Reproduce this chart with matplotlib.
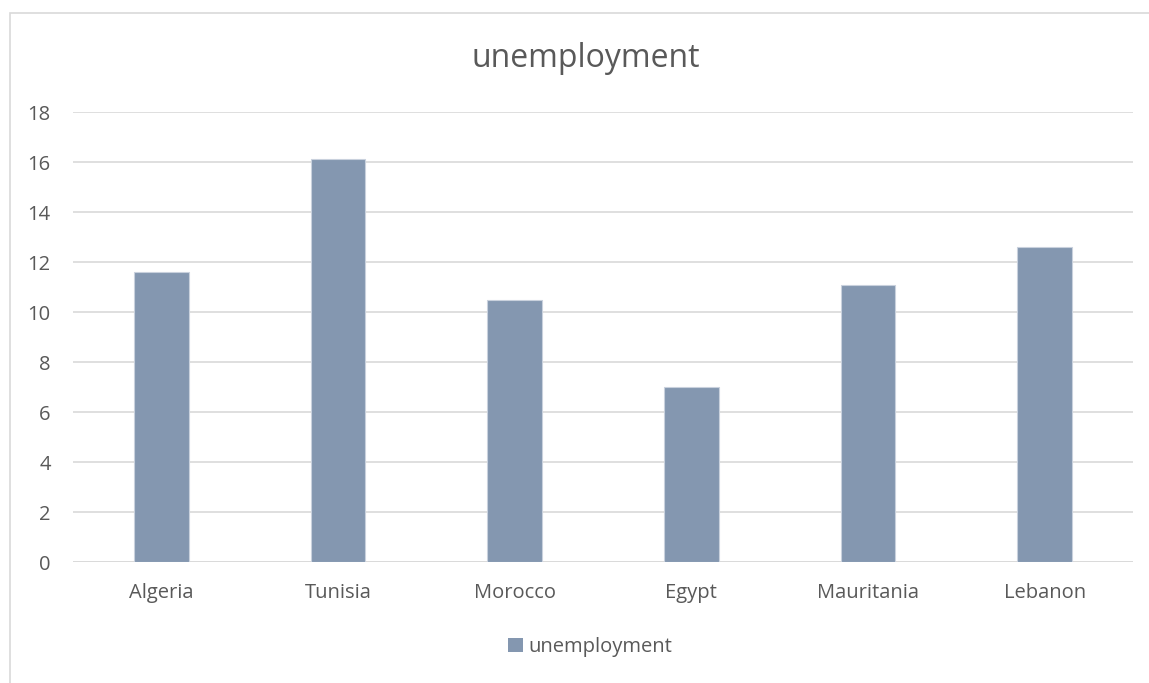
import matplotlib.pyplot as plt
from matplotlib.patches import Rectangle, Patch

countries = ['Algeria', 'Tunisia', 'Morocco', 'Egypt', 'Mauritania', 'Lebanon']
unemployment = [11.6, 16.1, 10.5, 7.0, 11.1, 12.6]
yticks = [0, 2, 4, 6, 8, 10, 12, 14, 16, 18]

bar_color = '#8497b0'
text_color = '#595959'
grid_color = '#d9d9d9'

plt.rcParams['font.family'] = ['Open Sans', 'DejaVu Sans']

W, H = 1149, 683
fig = plt.figure(figsize=(W / 100, H / 100), dpi=100, facecolor='white')
ax = fig.add_axes([73 / W, 1 - 562 / H, (1133 - 73) / W, (562 - 112) / H])

# outer chart border (runs off the right and bottom edges)
fig.patches.append(Rectangle((9.5 / W, -0.05), 1.2, 1 - 13.5 / H + 0.05,
                             transform=fig.transFigure, fill=False,
                             edgecolor=grid_color, linewidth=1.2))

x = range(len(countries))
ax.bar(x, unemployment, width=0.31, color=bar_color, edgecolor='#c9d1dd',
       linewidth=0.8, zorder=3)

ax.set_xlim(-0.5, len(countries) - 0.5)
ax.set_ylim(0, 18)
ax.set_yticks(yticks)
ax.set_xticks(list(x))
ax.set_xticklabels(countries)
ax.yaxis.grid(True, color=grid_color, linewidth=1.2, zorder=0)
ax.set_axisbelow(True)
for s in ax.spines.values():
    s.set_visible(False)
ax.axhline(0, color=grid_color, linewidth=1.2, zorder=1)
ax.tick_params(axis='both', length=0, labelsize=14.5, labelcolor=text_color)
ax.tick_params(axis='y', pad=16)
ax.tick_params(axis='x', pad=15)

fig.text(586 / W, 1 - 67 / H, 'unemployment', ha='center',
         va='baseline', fontsize=23, color=text_color)

fig.legend(handles=[Patch(facecolor=bar_color, edgecolor='none')],
           labels=['unemployment'], loc='center',
           bbox_to_anchor=(590 / W, 1 - 647 / H), frameon=False,
           fontsize=14.5, labelcolor=text_color, handlelength=0.75,
           handleheight=0.75, handletextpad=0.25)

fig.savefig('out.png', dpi=100, facecolor='white')
